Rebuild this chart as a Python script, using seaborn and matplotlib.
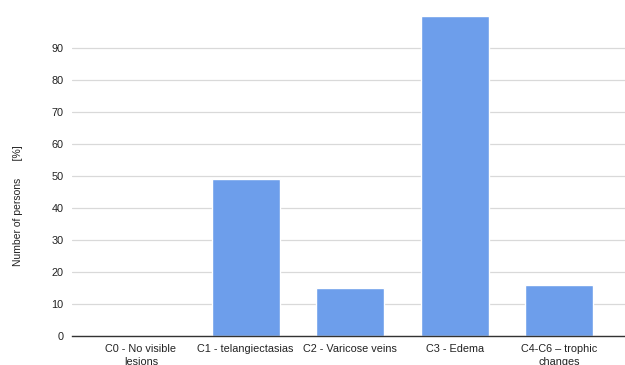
import matplotlib
matplotlib.use("Agg")
import matplotlib.pyplot as plt
import seaborn as sns
import pandas as pd

categories = ["C0 - No visible\nlesions", "C1 - telangiectasias", "C2 - Varicose veins",
              "C3 - Edema", "C4-C6 \u2013 trophic\nchanges"]
values = [0, 49, 15, 100, 16]
yticks = [0, 10, 20, 30, 40, 50, 60, 70, 80, 90]

sns.set_theme(style="white")
plt.rcParams["font.family"] = ["Liberation Sans", "DejaVu Sans"]

df = pd.DataFrame({"category": categories, "value": values})

fig = plt.figure(figsize=(6.25, 3.65), dpi=100)
ax = fig.add_axes([72 / 625, 1 - 336 / 365, 1 - 72 / 625, 320 / 365])

sns.barplot(data=df, x="category", y="value", color="#6d9eeb", width=0.65,
            saturation=1, ax=ax, zorder=3)

ax.set_ylim(0, 100)
ax.set_xlim(-0.66, 4.63)
ax.set_yticks(yticks)
ax.yaxis.grid(True, color="#d9d9d9", linewidth=0.9, zorder=0)
ax.set_axisbelow(True)
for side in ["top", "right", "left"]:
    ax.spines[side].set_visible(False)
ax.spines["bottom"].set_color("#333333")
ax.spines["bottom"].set_linewidth(1.0)
ax.spines["bottom"].set_zorder(4)

ax.tick_params(axis="both", length=0, labelsize=7.8, colors="#222222")
ax.tick_params(axis="y", pad=6)
ax.tick_params(axis="x", pad=6)
for lbl in ax.get_xticklabels():
    lbl.set_linespacing(1.35)
    lbl.set_verticalalignment("top")

ax.set_xlabel("")
ax.set_ylabel("Number of persons      [%]", fontsize=7.5, color="#222222")
ax.yaxis.set_label_coords(-0.089, 0.406)

fig.savefig("out.png", dpi=100)
